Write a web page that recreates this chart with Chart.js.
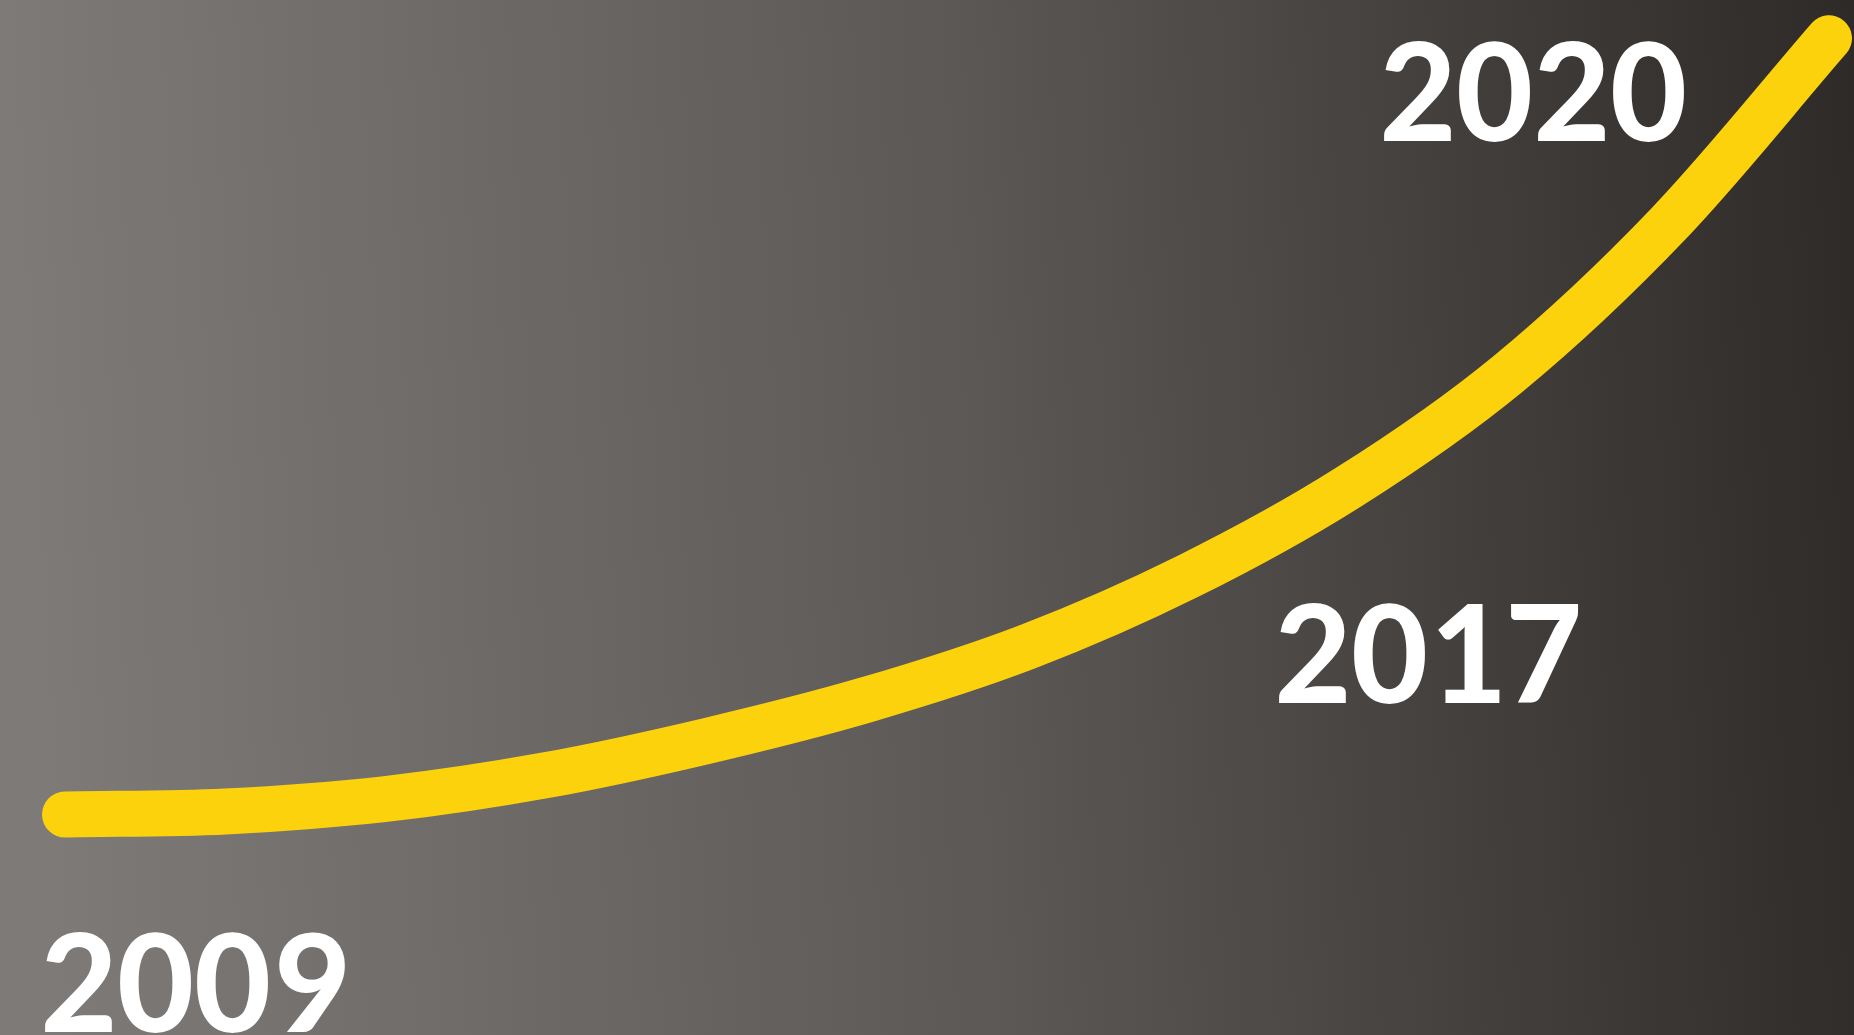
<!DOCTYPE html>
<html>
<head>
<meta charset="utf-8">
<title>2009 - 2020</title>
<script src="https://cdn.jsdelivr.net/npm/chart.js@4/dist/chart.umd.min.js"></script>
<style>
    html, body { margin: 0; padding: 0; background: #55514e; }
    #wrap { position: relative; width: 1854px; height: 1035px; }
</style>
</head>
<body>
<div id="wrap"><canvas id="growthChart"></canvas></div>
<script>
(function() {
    // Years along the curve and the value for each one
    var years = [2009, 2010, 2011, 2012, 2013, 2014, 2015, 2016, 2017, 2018, 2019, 2020];
    var values = [21.3, 21.6, 22.8, 25.1, 28.4, 32.4, 37.5, 44.3, 52.9, 63.9, 78.4, 96.3];

    // Big year captions
    var captions = ['2009', '2017', '2020'];

    var lineColor = '#FCD20D';
    var textFont = 'bold 152px Carlito, Lato, "Open Sans", sans-serif';

    var points = [];
    for (var i = 0; i < years.length; i++) {
        points.push({ x: years[i], y: values[i] });
    }

    // Dark grey gradient behind everything
    var backgroundPlugin = {
        id: 'backdrop',
        beforeDraw: function(chart) {
            var ctx = chart.ctx;
            var w = chart.width, h = chart.height;
            var grad = ctx.createLinearGradient(0, h * 0.1, w, 0);
            grad.addColorStop(0, '#7e7a77');
            grad.addColorStop(0.5, '#5d5956');
            grad.addColorStop(1, '#2e2a27');
            ctx.save();
            ctx.fillStyle = grad;
            ctx.fillRect(0, 0, w, h);
            ctx.restore();
        }
    };

    // Year captions in white
    var captionPlugin = {
        id: 'captions',
        afterDatasetsDraw: function(chart) {
            var ctx = chart.ctx;
            var spots = [[40, 1032], [1274, 703], [1379, 141]];
            ctx.save();
            ctx.fillStyle = '#ffffff';
            ctx.font = textFont;
            ctx.textAlign = 'left';
            ctx.textBaseline = 'alphabetic';
            for (var j = 0; j < captions.length; j++) {
                ctx.fillText(captions[j], spots[j][0], spots[j][1]);
            }
            ctx.restore();
        }
    };

    var ctx = document.getElementById('growthChart');
    new Chart(ctx, {
        type: 'line',
        data: {
            datasets: [{
                data: points,
                borderColor: lineColor,
                borderWidth: 46,
                borderCapStyle: 'round',
                borderJoinStyle: 'round',
                cubicInterpolationMode: 'monotone',
                pointRadius: 0,
                fill: false,
                clip: false
            }]
        },
        options: {
            responsive: true,
            maintainAspectRatio: false,
            animation: false,
            layout: {
                padding: { left: 65, right: 25, top: 0, bottom: 0 }
            },
            scales: {
                x: { type: 'linear', min: 2009, max: 2020, display: false },
                y: { min: 0, max: 100, display: false }
            },
            plugins: {
                legend: { display: false },
                tooltip: { enabled: false }
            }
        },
        plugins: [backgroundPlugin, captionPlugin]
    });
})();
</script>
</body>
</html>
